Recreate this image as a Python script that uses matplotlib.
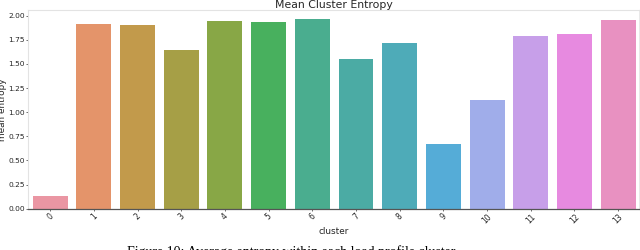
import matplotlib
matplotlib.use("Agg")
import matplotlib.pyplot as plt
import seaborn as sns

clusters = [str(i) for i in range(14)]
mean_entropy = [0.135, 1.915, 1.904, 1.648, 1.942, 1.931, 1.960, 1.551,
                1.717, 0.672, 1.129, 1.790, 1.807, 1.956]
yticks = [0.0, 0.25, 0.5, 0.75, 1.0, 1.25, 1.5, 1.75, 2.0]

pal = [sns.desaturate(c, 0.75) for c in sns.husl_palette(len(clusters), l=.7)]

W, H = 640, 250
fig = plt.figure(figsize=(W / 100, H / 100), dpi=100)
ax = fig.add_axes([28.3 / W, (H - 208.7) / H, (W - 28.3) / W, (208.7 - 10) / H])

x = list(range(len(clusters)))
ax.bar(x, mean_entropy, width=0.8, color=pal, edgecolor='none')
ax.set_xlim(-0.5, len(clusters) - 0.5)
ax.set_ylim(0, max(mean_entropy) * 1.05)

txt = '#262626'
ax.set_xticks(x)
ax.set_xticklabels(clusters, rotation=45, fontsize=5.5, color=txt)
ax.set_yticks(yticks)
ax.set_yticklabels([f"{v:.2f}" for v in yticks], fontsize=5.4, color=txt)
ax.tick_params(axis='both', length=1.6, width=0.6, color='#555555', pad=0.8)

for s in ['left', 'top']:
    ax.spines[s].set_color('#e3e3e3')
    ax.spines[s].set_linewidth(0.8)
for s in ['bottom', 'right']:
    ax.spines[s].set_color('#555555')
    ax.spines[s].set_linewidth(0.9)

ax.set_title("Mean Cluster Entropy", fontsize=7.8, color=txt, pad=1.5)
ax.set_ylabel("mean entropy", fontsize=6.4, color=txt)
ax.yaxis.set_label_coords((7.5 - 28.3) / (W - 28.3), 0.5)
ax.set_xlabel("cluster", fontsize=6.4, color=txt, labelpad=1.5)

fig.text(127 / W, 1 - 245 / H, "Figure 10: Average entropy within each load profile cluster.",
         family='Liberation Serif', fontsize=10, va='top', ha='left', color='black')

fig.savefig("out.png", dpi=100)
